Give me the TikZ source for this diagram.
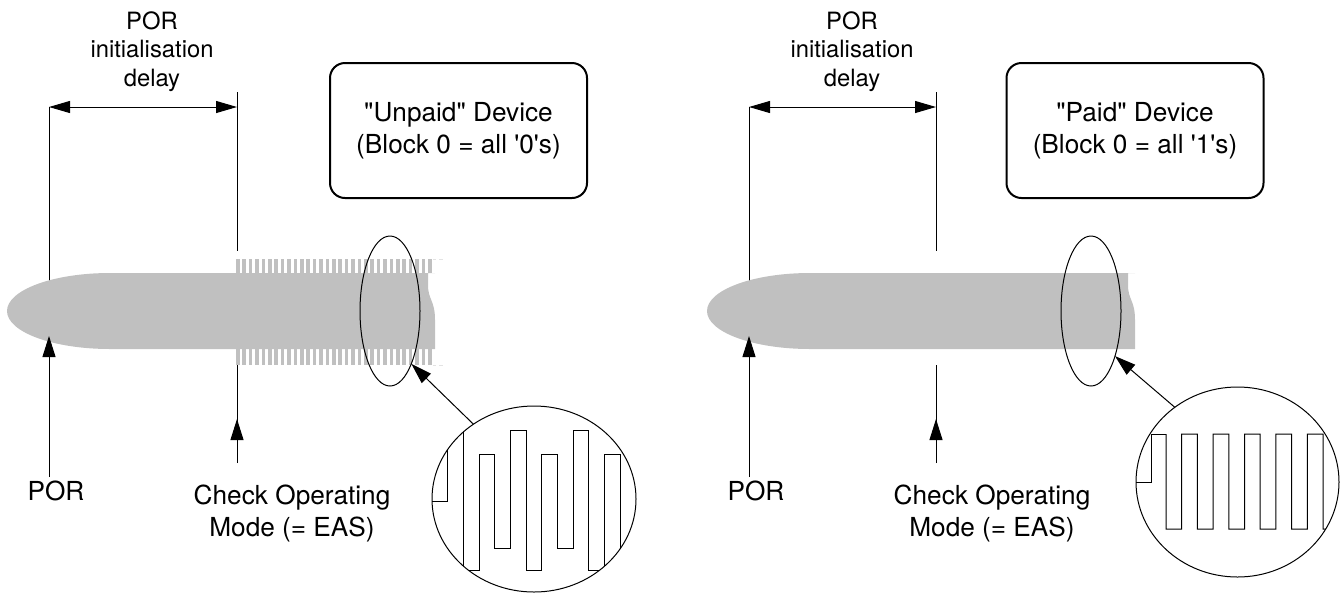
\documentclass[tikz,border=0pt]{standalone}
\usepackage{fontspec}
\setmainfont{TeX Gyre Heros}[Ligatures=TeXOff]
\usepackage{tikz}
\usetikzlibrary{shapes.geometric,arrows.meta,positioning,calc}
\definecolor{barcolor}{RGB}{192,192,192}

\begin{document}
\begin{tikzpicture}[x=0.5pt,y=-0.5pt,line width=0.5pt,
    every node/.style={inner sep=0pt},
    tip/.style={-{Triangle[length=10.5pt,width=6.5pt]}},
    dimtip/.style={{Triangle[length=10.5pt,width=6pt]}-{Triangle[length=10.5pt,width=6pt]}},
    modebox/.style={draw,line width=1pt,rounded corners=7.5pt,minimum width=128.5pt,minimum height=67.5pt,align=center,font=\fontsize{13.1}{16}\selectfont},
    lbl/.style={align=center,font=\fontsize{13.1}{16}\selectfont},
    dimlbl/.style={align=center,font=\fontsize{11.9}{14.25}\selectfont},
    lens/.style={draw,ellipse,outer sep=0pt,minimum width=30pt,minimum height=75pt},
    zoomview/.style={draw,ellipse,outer sep=0pt}]

    \useasboundingbox (0,0) rectangle (1343,596);

    % Markers
    \coordinate (porTopL) at (49,107);
    \coordinate (porMidL) at (49,300);
    \coordinate (porTipL) at (49,336);
    \coordinate (porBotL) at (49,477);
    \coordinate (chkTopL) at (237,92);
    \coordinate (chkDimL) at (237,107);
    \coordinate (chkMidL) at (237,251);
    \coordinate (chkLowL) at (237,365);
    \coordinate (chkTipL) at (237,419);
    \coordinate (chkBotL) at (237,463);

    \coordinate (porTopR) at (749,107);
    \coordinate (porMidR) at (749,300);
    \coordinate (porTipR) at (749,336);
    \coordinate (porBotR) at (749,477);
    \coordinate (chkTopR) at (936,92);
    \coordinate (chkDimR) at (936,107);
    \coordinate (chkMidR) at (936,251);
    \coordinate (chkLowR) at (936,365);
    \coordinate (chkTipR) at (936,419);
    \coordinate (chkBotR) at (936,463);

    \draw (porTopL) -- (porMidL);
    \draw (chkTopL) -- (chkMidL);
    \draw (porTopR) -- (porMidR);
    \draw (chkTopR) -- (chkMidR);

    % Bars
    \fill[barcolor] (435,273) -- (110,273) .. controls (53,273) and (7,290) .. (7,311)
        .. controls (7,332) and (53,349) .. (110,349) -- (435,349) -- (435,320)
        .. controls (435,300) and (428,300) .. (428,285) -- (428,273) -- cycle;
    \foreach \i in {0,...,30} {
        \fill[barcolor] ({236+6.4*\i},259) rectangle +(3.6,14);
        \fill[barcolor] ({236+6.4*\i},349) rectangle +(3.6,16);
    }
    \draw[barcolor!45, dash pattern=on 1.6pt off 1.6pt] (433,259) -- (445,259);
    \draw[barcolor!45, dash pattern=on 1.6pt off 1.6pt] (433,365) -- (445,365);

    \fill[barcolor] (1135,273) -- (810,273) .. controls (753,273) and (707,290) .. (707,311)
        .. controls (707,332) and (753,349) .. (810,349) -- (1135,349) -- (1135,320)
        .. controls (1135,300) and (1128,300) .. (1128,285) -- (1128,273) -- cycle;

    % Labels
    \node[dimlbl, anchor=north] (delayL) at (152,11) {POR\\initialisation\\delay};
    \node[dimlbl, anchor=north] (delayR) at (852,11) {POR\\initialisation\\delay};
    \node[modebox] (unpaid) at (458.5,130.5) {"Unpaid" Device\\(Block 0 = all '0's)};
    \node[modebox] (paid) at (1135,130.5) {"Paid" Device\\(Block 0 = all '1's)};
    \node[lbl, anchor=base] (porL) at (56,500) {POR};
    \node[lbl, anchor=base] (porR) at (756,500) {POR};
    \node[lbl, anchor=north] (checkL) at (292,484) {Check Operating\\Mode (= EAS)};
    \node[lbl, anchor=north] (checkR) at (992,484) {Check Operating\\Mode (= EAS)};

    % Events
    \draw[dimtip] (porTopL) -- (chkDimL);
    \draw[dimtip] (porTopR) -- (chkDimR);
    \draw[tip] (porBotL) -- (porTipL);
    \draw[tip] (porBotR) -- (porTipR);
    \draw (chkLowL) -- (chkBotL);
    \draw[tip] (chkBotL) -- (chkTipL);
    \draw (chkLowR) -- (chkBotR);
    \draw[tip] (chkBotR) -- (chkTipR);

    % Magnified signal
    \begin{scope}
        \clip (534,499) ellipse [x radius=102, y radius=93];
        \draw (430,501) -- (447,501) -- (447,430) -- (463,430) -- (463,570) -- (479,570)
            -- (479,454) -- (494,454) -- (494,548) -- (510,548) -- (510,430) -- (526,430)
            -- (526,570) -- (541,570) -- (541,454) -- (557,454) -- (557,548) -- (573,548)
            -- (573,430) -- (588,430) -- (588,570) -- (604,570) -- (604,454) -- (620,454)
            -- (620,548) -- (640,548);
    \end{scope}
    \begin{scope}
        \clip (1237.5,482) ellipse [x radius=101.5, y radius=95];
        \draw (1134,482) -- (1151,482) -- (1151,434) -- (1166,434);
        \draw (1166,434) \foreach \x in {1166,1197.4,1228.8,1260.2,1291.6} {
            -- (\x,529) -- ({\x+15.7},529) -- ({\x+15.7},434) -- ({\x+31.4},434)
        } -- (1323,529) -- (1345,529);
    \end{scope}

    \node[lens] (lensL) at (390,311) {};
    \node[lens] (lensR) at (1091,311) {};
    \node[zoomview, minimum width=102pt, minimum height=93pt] (zoomL) at (534,499) {};
    \node[zoomview, minimum width=101.5pt, minimum height=95pt] (zoomR) at (1237.5,482) {};

    \draw[tip] (zoomL.129) -- (lensL.-68);
    \draw[tip] (zoomR.130) -- (lensR.-62);

\end{tikzpicture}
\end{document}
